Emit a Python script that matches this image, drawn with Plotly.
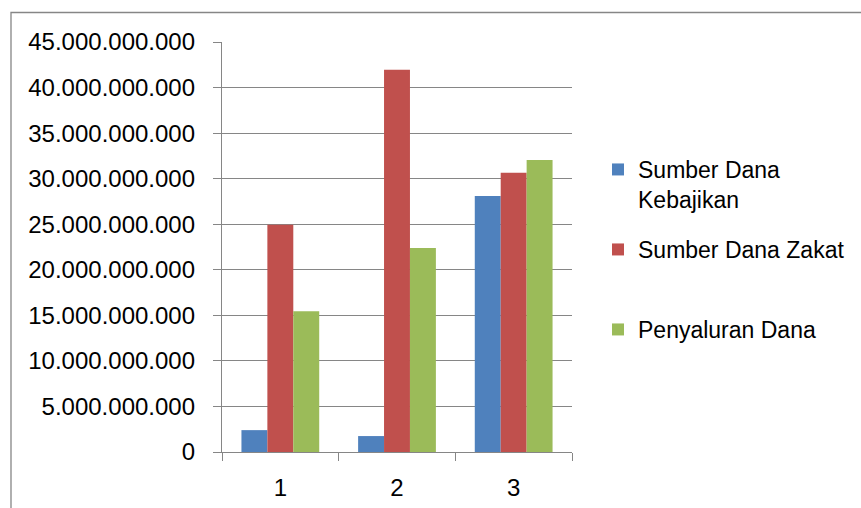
import plotly.graph_objects as go

# ---- data ----
categories = ["1", "2", "3"]
series_names = ["Sumber Dana<br>Kebajikan", "Sumber Dana Zakat", "Penyaluran Dana"]
sumber_dana_kebajikan = [2_400_000_000, 1_750_000_000, 28_100_000_000]
sumber_dana_zakat = [24_950_000_000, 41_950_000_000, 30_650_000_000]
penyaluran_dana = [15_450_000_000, 22_400_000_000, 32_050_000_000]
y_tick_values = [0, 5_000_000_000, 10_000_000_000, 15_000_000_000, 20_000_000_000,
                 25_000_000_000, 30_000_000_000, 35_000_000_000, 40_000_000_000,
                 45_000_000_000]

# ---- styling ----
W, H = 861, 508
colors = ["#4F81BD", "#C0504D", "#9BBB59"]
grid_col = "#868686"
FONT = "Liberation Sans, Arial, sans-serif"
FS_AX = 24
FS_LG = 23

series_values = [sumber_dana_kebajikan, sumber_dana_zakat, penyaluran_dana]
legend_ids = ["legend", "legend2", "legend3"]

fig = go.Figure()
for name, vals, col, lg in zip(series_names, series_values, colors, legend_ids):
    fig.add_trace(go.Bar(
        x=categories, y=vals, name=name,
        marker=dict(color=col, line=dict(width=0)),
        legend=lg,
    ))

legend_top_px = [148, 228, 308]
legend_common = dict(
    xref="container", yref="container",
    x=598 / W, xanchor="left", yanchor="top",
    font=dict(family=FONT, size=FS_LG, color="#000000"),
    bgcolor="rgba(0,0,0,0)", borderwidth=0,
    valign="top",
)

layout_legends = {}
for lg, top in zip(legend_ids, legend_top_px):
    layout_legends[lg] = dict(legend_common, y=1 - top / H)

fig.update_layout(
    width=W, height=H,
    margin=dict(l=222, r=289, t=42, b=56, autoexpand=False),
    paper_bgcolor="#FFFFFF", plot_bgcolor="#FFFFFF",
    barmode="group", bargap=1.5 / 4.5, bargroupgap=0,
    separators=",.",
    font=dict(family=FONT, size=FS_AX, color="#000000"),
    showlegend=True,
    **layout_legends,
)

fig.update_xaxes(
    type="category", range=[-0.5, 2.5],
    showgrid=False, showline=True, linecolor=grid_col, linewidth=1.3,
    ticks="outside", tickson="boundaries", ticklen=8, tickcolor=grid_col, tickwidth=1.3,
    tickfont=dict(family=FONT, size=FS_AX, color="#000000"),
    ticklabelstandoff=14,
    zeroline=False,
)
fig.update_yaxes(
    range=[0, 45_000_000_000], tickvals=y_tick_values, tickformat=",d",
    showgrid=True, gridcolor=grid_col, gridwidth=1.3,
    showline=True, linecolor=grid_col, linewidth=1.3,
    ticks="outside", ticklen=8, tickcolor=grid_col, tickwidth=1.3,
    tickfont=dict(family=FONT, size=FS_AX, color="#000000"),
    ticklabelstandoff=13,
    zeroline=False,
)

# chart-area border (Excel chart frame)
pw = W - 222 - 289
ph = H - 42 - 56
fig.add_shape(type="rect", xref="paper", yref="paper",
              x0=(11 - 222) / pw, x1=(870 - 222) / pw,
              y0=-(H - 42 + 20 - ph) / ph, y1=1 + (42 - 12.5) / ph,
              line=dict(color=grid_col, width=1.3), fillcolor="rgba(0,0,0,0)", layer="below")

fig.write_html("out.html")
